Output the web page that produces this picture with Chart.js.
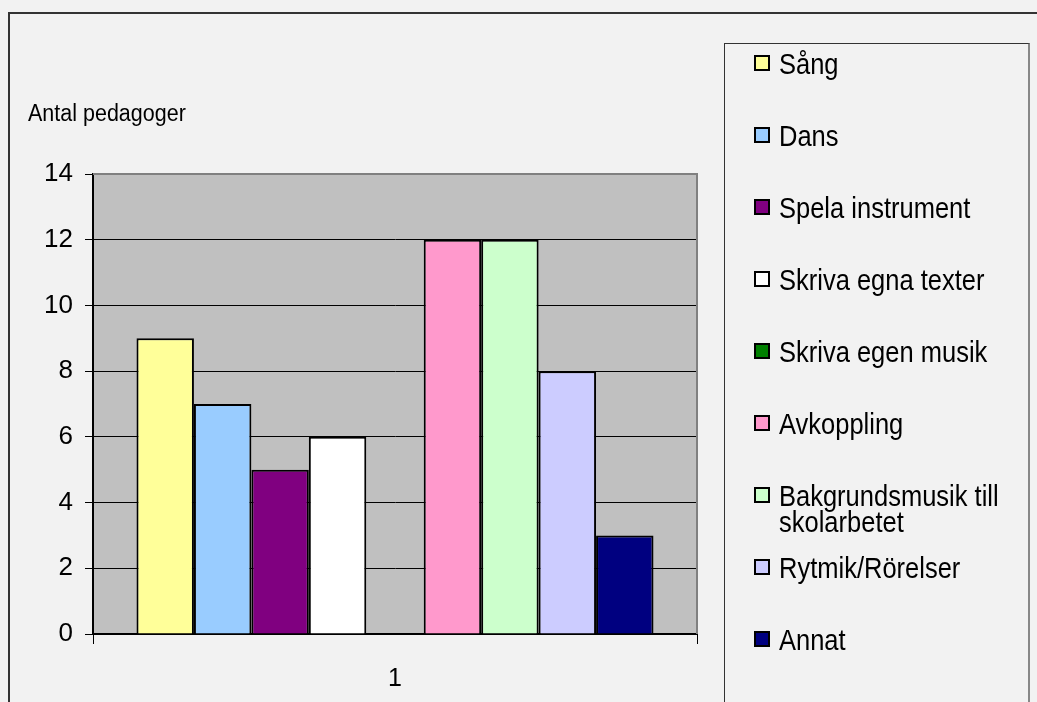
<!DOCTYPE html>
<html lang="sv">
<head>
    <meta charset="UTF-8">
    <title>Antal pedagoger</title>
    <style>
        html, body { margin: 0; padding: 0; background: #f2f2f2; }
        #wrap { position: relative; width: 1037px; height: 702px; overflow: hidden; }
        /* outer chart frame (cut off at right and bottom) */
        #frame {
            position: absolute; left: 8px; top: 12px; width: 1100px; height: 800px;
            border-left: 2px solid #333; border-top: 2px solid #333;
        }
        #chartCanvas { position: absolute; left: 0; top: 0; }
        #ytitle {
            position: absolute; left: 28px; top: 101px;
            font: 21.5px "Liberation Sans", Arial, sans-serif; color: #000;
            transform: scaleY(1.15); transform-origin: left center;
        }
        #legend {
            position: absolute; left: 724px; top: 43px; width: 303px; height: 700px;
            border: 1px solid #333; border-right: 2px solid #888;
        }
        .item {
            position: absolute; left: 29px; width: 270px;
            font: 25.5px/23px "Liberation Sans", Arial, sans-serif; color: #000;
        }
        .item .sw {
            position: absolute; left: 0; top: 3px; width: 12px; height: 12px;
            border: 2px solid #000;
        }
        .item .tx {
            margin-left: 25px; display: block;
            transform: scaleY(1.12); transform-origin: left top;
        }
    </style>
</head>
<body>
<div id="wrap">
    <div id="frame"></div>
    <canvas id="chartCanvas" width="1037" height="702"></canvas>
    <div id="ytitle">Antal pedagoger</div>
    <div id="legend"></div>
</div>

<script src="https://cdn.jsdelivr.net/npm/chart.js"></script>
<script>
    // data
    const categories = ['1'];
    const seriesNames = ['Sång', 'Dans', 'Spela instrument', 'Skriva egna texter', 'Skriva egen musik',
                         'Avkoppling', 'Bakgrundsmusik till skolarbetet', 'Rytmik/Rörelser', 'Annat'];
    const seriesValues = [9, 7, 5, 6, 0, 12, 12, 8, 3];
    const seriesColors = ['#ffff99', '#99ccff', '#800080', '#ffffff', '#008000',
                          '#ff99cc', '#ccffcc', '#ccccff', '#000080'];
    const yTicks = [0, 2, 4, 6, 8, 10, 12, 14];

    const font = '"Liberation Sans", Arial, sans-serif';

    // gray plot area + gray top/right border
    const plotArea = {
        id: 'plotArea',
        beforeDraw(chart) {
            const { ctx, chartArea: a } = chart;
            ctx.save();
            ctx.fillStyle = '#c0c0c0';
            ctx.fillRect(a.left, a.top, a.right - a.left, a.bottom - a.top);
            ctx.restore();
        },
        afterDraw(chart) {
            const { ctx, chartArea: a } = chart;
            ctx.save();
            ctx.strokeStyle = '#808080';
            ctx.lineWidth = 2;
            ctx.beginPath();
            ctx.moveTo(a.left, a.top);
            ctx.lineTo(a.right, a.top);
            ctx.lineTo(a.right, a.bottom);
            ctx.stroke();
            ctx.restore();
        }
    };

    new Chart(document.getElementById('chartCanvas'), {
        type: 'bar',
        data: {
            labels: categories,
            datasets: seriesNames.map((name, i) => ({
                label: name,
                data: [seriesValues[i]],
                backgroundColor: seriesColors[i],
                borderColor: '#000',
                borderWidth: seriesValues[i] ? 2 : 0,
                barPercentage: 1,
                categoryPercentage: 0.856
            }))
        },
        options: {
            responsive: false,
            animation: false,
            devicePixelRatio: 1,
            layout: { padding: { top: 174, right: 340, bottom: 0, left: 0 } },
            plugins: { legend: { display: false }, tooltip: { enabled: false } },
            scales: {
                x: {
                    offset: true,
                    grid: { display: true, drawOnChartArea: false, color: '#000', tickLength: 10 },
                    border: { color: '#000', width: 2 },
                    ticks: { color: '#000', font: { family: font, size: 25 }, padding: 20 },
                    afterFit(s) { s.height = 68; }
                },
                y: {
                    min: 0, max: 14,
                    afterBuildTicks(s) { s.ticks = yTicks.map(v => ({ value: v })); },
                    grid: { color: '#000', tickLength: 8 },
                    border: { color: '#000', width: 2 },
                    ticks: { color: '#000', font: { family: font, size: 26 }, padding: 12 },
                    afterFit(s) { s.width = 93; }
                }
            }
        },
        plugins: [plotArea]
    });

    // legend box, one row every 72px
    const legend = document.getElementById('legend');
    seriesNames.forEach((name, i) => {
        const row = document.createElement('div');
        row.className = 'item';
        row.style.top = (8 + i * 72) + 'px';
        row.innerHTML = '<span class="sw" style="background:' + seriesColors[i] + '"></span>' +
                        '<span class="tx">' + name + '</span>';
        legend.appendChild(row);
    });
</script>
</body>
</html>
